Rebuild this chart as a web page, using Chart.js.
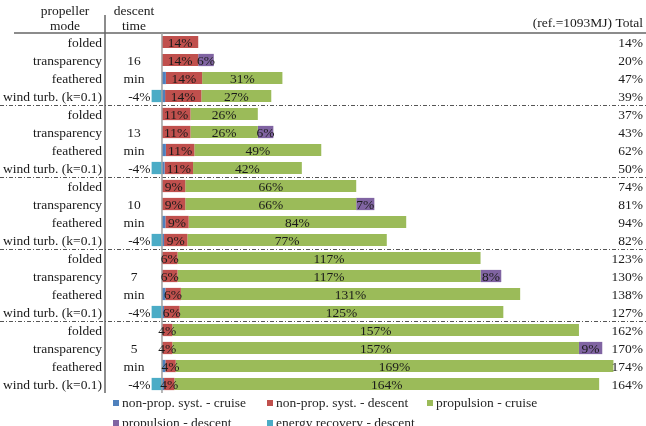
<!DOCTYPE html>
<html>
<head>
<meta charset="utf-8">
<script src="https://cdn.jsdelivr.net/npm/chart.js@4/dist/chart.umd.min.js"></script>
<style>
html, body { margin: 0; padding: 0; background: #fff; overflow: hidden; }
#wrap { width: 646px; height: 426px; overflow: hidden; }
</style>
</head>
<body>
<div id="wrap"><canvas id="c" width="646" height="446"></canvas></div>
<script>
// table columns on the left
const propModes = ['folded', 'transparency', 'feathered', 'wind turb. (k=0.1)'];
const descentTimes = ['16', '13', '10', '7', '5'];

// one value per row, 5 descent times x 4 propeller modes
const nonPropCruise   = [0, 0, 1.5, 1.2,  0, 0, 1.5, 1,  0, 0, 1.3, 0.8,  0, 0, 1.3, 0.8,  0, 0, 1.3, 0.8];
const nonPropDescent  = [14, 14, 14, 14,  11, 11, 11, 11,  9, 9, 9, 9,  6, 6, 6, 6,  4, 4, 4, 4];
const propCruise      = [0, 0, 31, 27,  26, 26, 49, 42,  66, 66, 84, 77,  117, 117, 131, 125,  157, 157, 169, 164];
const propDescent     = [0, 6, 0, 0,  0, 6, 0, 0,  0, 7, 0, 0,  0, 8, 0, 0,  0, 9, 0, 0];
const energyRecovery  = [0, 0, 0, -4,  0, 0, 0, -4,  0, 0, 0, -4,  0, 0, 0, -4,  0, 0, 0, -4];
const totals          = [14, 20, 47, 39,  37, 43, 62, 50,  74, 81, 94, 82,  123, 130, 138, 127,  162, 170, 174, 164];

const seriesNames = ['non-prop. syst. - cruise', 'non-prop. syst. - descent', 'propulsion - cruise',
  'propulsion - descent', 'energy recovery - descent'];
const seriesColors = ['#4F81BD', '#C0504D', '#9BBB59', '#8064A2', '#4BACC6'];

const rowLabels = [];
descentTimes.forEach(t => propModes.forEach(m => rowLabels.push(t + ' min ' + m)));

const FONT = '13.5px "Liberation Serif", "Times New Roman", serif';
const TXT = '#1a1a1a';

const tablePlugin = {
  id: 'table',
  beforeDatasetsDraw(chart) {
    const { ctx, chartArea: a, scales: { x, y } } = chart;
    ctx.save();
    ctx.font = FONT;
    ctx.fillStyle = TXT;
    ctx.textBaseline = 'middle';
    ctx.textAlign = 'center';
    ctx.fillText('propeller', 65, 11);
    ctx.fillText('mode', 65, 26);
    ctx.fillText('descent', 134, 11);
    ctx.fillText('time', 134, 26);
    ctx.textAlign = 'right';
    ctx.fillText('(ref.=1093MJ) Total', 643, 23);

    // header rule
    ctx.strokeStyle = '#8c8c8c';
    ctx.lineWidth = 2;
    ctx.beginPath();
    ctx.moveTo(14, a.top);
    ctx.lineTo(646, a.top);
    ctx.stroke();

    // column divider
    ctx.strokeStyle = '#666';
    ctx.lineWidth = 1.5;
    ctx.beginPath();
    ctx.moveTo(105, 15);
    ctx.lineTo(105, a.bottom);
    ctx.stroke();

    // group separators
    ctx.strokeStyle = '#555';
    ctx.lineWidth = 1;
    ctx.setLineDash([4, 2, 1, 2]);
    for (let g = 1; g < descentTimes.length; g++) {
      const yy = Math.round((y.getPixelForValue(g * 4 - 1) + y.getPixelForValue(g * 4)) / 2) + 0.5;
      ctx.beginPath();
      ctx.moveTo(0, yy);
      ctx.lineTo(646, yy);
      ctx.stroke();
    }
    ctx.setLineDash([]);
    ctx.restore();
  },
  afterDatasetsDraw(chart) {
    const { ctx, chartArea: a, scales: { x, y } } = chart;
    ctx.save();

    // zero line
    ctx.strokeStyle = '#a0a0a0';
    ctx.lineWidth = 1.5;
    const x0 = x.getPixelForValue(0);
    ctx.beginPath();
    ctx.moveTo(x0, a.top);
    ctx.lineTo(x0, a.bottom);
    ctx.stroke();

    ctx.font = FONT;
    ctx.fillStyle = TXT;
    ctx.textBaseline = 'middle';

    rowLabels.forEach((_, i) => {
      const yy = y.getPixelForValue(i) + 1;
      ctx.textAlign = 'right';
      ctx.fillText(propModes[i % 4], 102, yy);
      ctx.fillText(totals[i] + '%', 643, yy);
      ctx.textAlign = 'center';
      if (i % 4 === 1) ctx.fillText(descentTimes[Math.floor(i / 4)], 134, yy);
      if (i % 4 === 2) ctx.fillText('min', 134, yy);
    });

    // value labels on segments
    chart.data.datasets.forEach((ds, di) => {
      if (di === 0) return;
      const meta = chart.getDatasetMeta(di);
      meta.data.forEach((bar, i) => {
        const v = ds.data[i];
        if (!v) return;
        const yy = bar.y + 1;
        if (v < 0) {
          ctx.textAlign = 'right';
          ctx.fillText(Math.round(v) + '%', Math.min(bar.x, bar.base) - 1, yy);
        } else {
          ctx.textAlign = 'center';
          ctx.fillText(Math.round(v) + '%', (bar.x + bar.base) / 2, yy);
        }
      });
    });

    // legend in fixed columns
    const cols = [113, 267, 427];
    chart.data.datasets.forEach((ds, di) => {
      const bx = cols[di % 3];
      const by = 403 + Math.floor(di / 3) * 20;
      ctx.fillStyle = ds.backgroundColor;
      ctx.fillRect(bx, by - 3, 6, 6);
      ctx.fillStyle = '#262626';
      ctx.textAlign = 'left';
      ctx.fillText(ds.label, bx + 9, by);
    });
    ctx.restore();
  }
};

const seriesData = [nonPropCruise, nonPropDescent, propCruise, propDescent, energyRecovery];

new Chart(document.getElementById('c'), {
  type: 'bar',
  data: {
    labels: rowLabels,
    datasets: seriesData.map((d, k) => ({
      label: seriesNames[k],
      data: d,
      backgroundColor: seriesColors[k],
      borderWidth: 0,
      categoryPercentage: 1,
      barPercentage: 0.68
    }))
  },
  options: {
    indexAxis: 'y',
    responsive: false,
    animation: false,
    layout: { padding: { left: 105, right: 1, top: 33, bottom: 53 } },
    scales: {
      x: { stacked: true, display: false, min: -22, max: 186.5 },
      y: { stacked: true, display: false }
    },
    plugins: {
      legend: { display: false },
      tooltip: { enabled: false }
    }
  },
  plugins: [tablePlugin]
});
</script>
</body>
</html>
